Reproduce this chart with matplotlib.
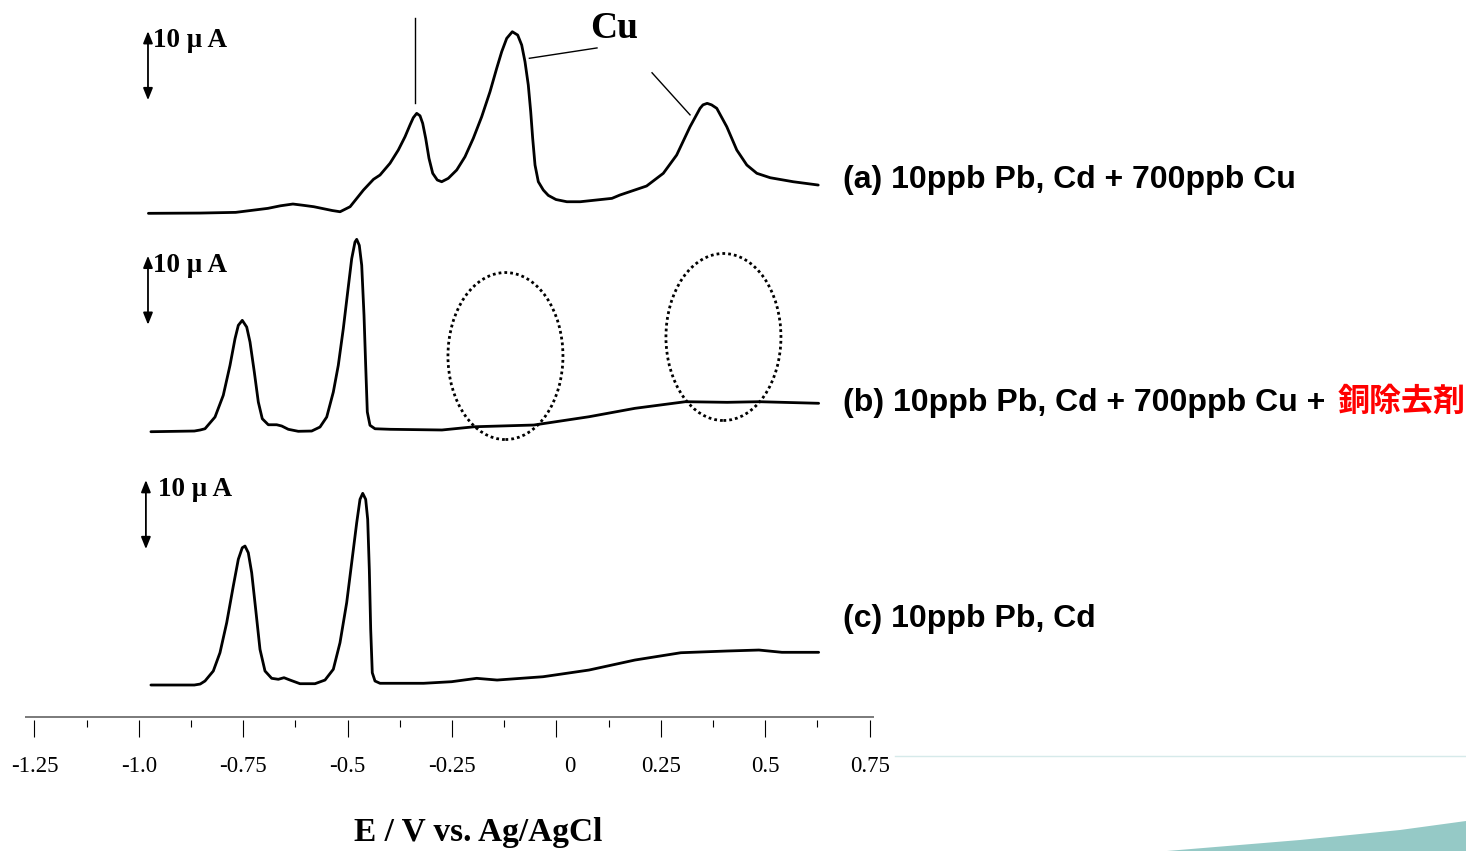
import matplotlib
matplotlib.use("Agg")
import matplotlib.pyplot as plt
from matplotlib.patches import Ellipse, Polygon
from matplotlib.lines import Line2D
from matplotlib.transforms import ScaledTranslation

# ---------------- data: (potential V, current uA above the trace baseline) ----------------
trace_a = [(-0.977, 0), (-0.853, 0.04), (-0.768, 0.14), (-0.691, 0.72), (-0.661, 1.09),
           (-0.631, 1.35), (-0.607, 1.17), (-0.581, 0.96), (-0.537, 0.41), (-0.518, 0.23),
           (-0.494, 0.96), (-0.462, 3.38), (-0.438, 4.93), (-0.4224, 5.55), (-0.3985, 7.25),
           (-0.3786, 9.17), (-0.3625, 11.10), (-0.3506, 12.80), (-0.3427, 13.86),
           (-0.3345, 14.49), (-0.3266, 14.14), (-0.3202, 13.04), (-0.3130, 10.87),
           (-0.3051, 7.97), (-0.2962, 5.80), (-0.2852, 4.83), (-0.2747, 4.58), (-0.2589, 5.07),
           (-0.2387, 6.28), (-0.2189, 8.20), (-0.1990, 10.87), (-0.1789, 14.00),
           (-0.1590, 17.62), (-0.1430, 21.01), (-0.1310, 23.42), (-0.1190, 25.36),
           (-0.1056, 26.32), (-0.0927, 25.84), (-0.0831, 24.39), (-0.0752, 21.97),
           (-0.0673, 18.59), (-0.0615, 14.72), (-0.0568, 10.87), (-0.0512, 7.00),
           (-0.0433, 4.58), (-0.0314, 3.38), (-0.0194, 2.60), (-0.001, 2.00), (0.025, 1.68),
           (0.057, 1.68), (0.133, 2.17), (0.152, 2.65), (0.216, 3.96), (0.256, 5.80),
           (0.288, 8.45), (0.320, 12.55), (0.344, 15.22), (0.351, 15.72), (0.361, 15.94),
           (0.3716, 15.72), (0.384, 15.22), (0.408, 12.55), (0.432, 9.17), (0.456, 7.00),
           (0.480, 5.80), (0.512, 5.16), (0.567, 4.58), (0.627, 4.10)]

trace_b = [(-0.971, 0), (-0.867, 0.10), (-0.853, 0.25), (-0.8415, 0.43), (-0.8175, 2.13),
           (-0.7977, 5.28), (-0.7816, 9.62), (-0.7696, 13.48), (-0.7617, 15.42),
           (-0.7522, 16.14), (-0.7416, 15.17), (-0.7337, 13.00), (-0.7234, 8.65),
           (-0.7138, 4.30), (-0.7043, 1.88), (-0.6899, 1.01), (-0.6698, 1.01), (-0.6578, 0.83),
           (-0.6420, 0.35), (-0.6181, 0.06), (-0.5860, 0.10), (-0.5661, 0.68), (-0.5500, 2.13),
           (-0.5342, 5.75), (-0.5223, 9.62), (-0.5103, 14.93), (-0.4998, 20.25),
           (-0.4902, 25.07), (-0.4823, 27.49), (-0.4782, 27.88), (-0.4720, 27.01),
           (-0.4662, 24.12), (-0.4607, 16.87), (-0.4567, 9.62), (-0.4528, 2.86),
           (-0.4464, 0.93), (-0.4344, 0.43), (-0.398, 0.35), (-0.274, 0.25), (-0.196, 0.72),
           (-0.054, 0.97), (0.078, 2.17), (0.188, 3.39), (0.309, 4.35), (0.409, 4.26),
           (0.485, 4.35), (0.628, 4.12)]

trace_c = [(-0.971, 0), (-0.867, 0), (-0.853, 0.14), (-0.8415, 0.58), (-0.8216, 2.03),
           (-0.8056, 4.68), (-0.7895, 9.03), (-0.7737, 14.35), (-0.7617, 18.22),
           (-0.7522, 19.90), (-0.7457, 20.14), (-0.7378, 19.17), (-0.7297, 16.28),
           (-0.7201, 10.97), (-0.7098, 5.17), (-0.6978, 2.03), (-0.6818, 0.97), (-0.6659, 0.83),
           (-0.6523, 1.06), (-0.6379, 0.72), (-0.6140, 0.19), (-0.5781, 0.19), (-0.5541, 0.72),
           (-0.5342, 2.28), (-0.5182, 6.13), (-0.5022, 11.93), (-0.4902, 17.72),
           (-0.4782, 23.52), (-0.4703, 26.91), (-0.4638, 27.78), (-0.4567, 26.91),
           (-0.4519, 24.01), (-0.4480, 16.77), (-0.4447, 8.07), (-0.4409, 1.78),
           (-0.4344, 0.58), (-0.4224, 0.25), (-0.398, 0.25), (-0.318, 0.25), (-0.251, 0.48),
           (-0.191, 0.97), (-0.142, 0.72), (-0.032, 1.20), (0.078, 2.17), (0.188, 3.62),
           (0.298, 4.68), (0.409, 4.93), (0.485, 5.07), (0.540, 4.74), (0.628, 4.74)]

trace_offsets = [73.43, 41.78, 5.07]          # vertical stacking offsets (uA)
scale_bar_uA = 10
scale_bar_label = "10 μ A"

trace_labels = ["(a) 10ppb Pb, Cd + 700ppb Cu",
                "(b) 10ppb Pb, Cd + 700ppb Cu +",
                "(c) 10ppb Pb, Cd"]
label_b_red = "銅除去剤"
cu_label = "Cu"

tick_values = [-1.25, -1.0, -0.75, -0.5, -0.25, 0, 0.25, 0.5, 0.75]
tick_labels = ["-1.25", "-1.0", "-0.75", "-0.5", "-0.25", "0", "0.25", "0.5", "0.75"]
minor_tick_values = [-1.125, -0.875, -0.625, -0.375, -0.125, 0.125, 0.375, 0.625]
x_label = "E / V vs. Ag/AgCl"

# ---------------- layout ----------------
W, H, DPI = 1466, 851, 100
PX_PER_V = 417.6
PX_PER_UA = 6.9
X0_PX = 556.4            # pixel of 0 V
AX_LEFT, AX_RIGHT, AX_BOTTOM = 25, 874, 720

SERIF = ["Liberation Serif", "DejaVu Serif"]
SANS = ["Liberation Sans", "DejaVu Sans"]
CJK = ["Noto Sans CJK JP", "DejaVu Sans"]

fig = plt.figure(figsize=(W / DPI, H / DPI), dpi=DPI)
ax = fig.add_axes([AX_LEFT / W, (H - AX_BOTTOM) / H, (AX_RIGHT - AX_LEFT) / W, AX_BOTTOM / H])
ax.set_xlim((AX_LEFT - X0_PX) / PX_PER_V, (AX_RIGHT - X0_PX) / PX_PER_V)
ax.set_ylim(0, AX_BOTTOM / PX_PER_UA)
for s in ax.spines.values():
    s.set_visible(False)
ax.set_yticks([])

# axis line (slightly above the tick origins)
ax.axhline(3 / PX_PER_UA, color="#7a7a7a", lw=1.4, zorder=1)

ax.set_xticks(tick_values)
ax.set_xticklabels(tick_labels, fontfamily=SERIF)
ax.set_xticks(minor_tick_values, minor=True)
ax.tick_params(axis="x", which="major", direction="out", length=12.2, width=0.8,
               pad=14.0, labelsize=16.5, color="black")
ax.tick_params(axis="x", which="minor", direction="out", length=5.0, width=0.8, color="black")
for lab in ax.get_xticklabels():
    if lab.get_text() == "0":
        lab.set_transform(lab.get_transform() + ScaledTranslation(13 / DPI, 0, fig.dpi_scale_trans))

# ---------------- traces ----------------
for trace, off in zip([trace_a, trace_b, trace_c], trace_offsets):
    E = [p[0] for p in trace]
    I = [p[1] + off for p in trace]
    ax.plot(E, I, color="black", lw=2.0, solid_joinstyle="round",
            solid_capstyle="round", zorder=3)

# scale bars (10 uA double arrows) and labels
bar_x = [-0.978, -0.978, -0.983]
bar_top = [26.4, 25.5, 29.7]        # relative to trace offset
lab_x = [-0.966, -0.966, -0.954]
for bx, bt, lx, off in zip(bar_x, bar_top, lab_x, trace_offsets):
    ax.annotate("", xy=(bx, off + bt), xytext=(bx, off + bt - scale_bar_uA),
                arrowprops=dict(arrowstyle="<|-|>,head_length=0.55,head_width=0.22",
                                lw=1.3, color="black", shrinkA=0, shrinkB=0,
                                mutation_scale=13))
    ax.text(lx, off + bt - 1.4, scale_bar_label, fontfamily=SERIF, fontweight="bold",
            fontsize=19.5, va="center", ha="left")

# Cu annotations on trace (a)
ax.plot([-0.3386, -0.3386], [101.7, 89.4], color="black", lw=1.0)
ax.plot([-0.0647, 0.0972], [95.9, 97.4], color="black", lw=1.0)
ax.plot([0.229, 0.320], [93.8, 87.7], color="black", lw=1.0)
ax.text(0.139, 100.2, cu_label, fontfamily=SERIF, fontweight="bold", fontsize=27,
        ha="center", va="center")

# dotted ellipses on trace (b)
for cx, cy in [(-0.122, 10.97), (0.400, 13.73)]:
    ax.add_patch(Ellipse((cx, trace_offsets[1] + cy), width=115 / PX_PER_V,
                         height=167 / PX_PER_UA, fill=False, color="black", lw=2.0,
                         linestyle=(0, (1, 1.1)), zorder=4))

# right-hand labels
label_x = 0.686
label_y = [77.1, 44.78, 13.48]
texts = []
for txt, ly in zip(trace_labels, label_y):
    t = ax.text(label_x, ly, txt, fontfamily=SANS, fontweight="bold", fontsize=23,
                ha="left", va="baseline", color="black")
    texts.append(t)

fig.canvas.draw()
bb = texts[1].get_window_extent()
fig.text((bb.x1 + 13) / W, texts[1].get_transform().transform((label_x, label_y[1]))[1] / H,
         label_b_red, fontfamily=CJK, fontweight="bold", fontsize=23, color="#ff0000",
         ha="left", va="baseline")

# x-axis title
fig.text(478 / W, 1 - 832 / H, x_label, fontfamily=SERIF, fontweight="bold", fontsize=24,
         ha="center", va="center")

# slide decoration (bottom right)
fig.add_artist(Line2D([895 / W, 1.0], [1 - 756 / H, 1 - 756 / H], color="#d6eaea", lw=1.0,
                      transform=fig.transFigure))
fig.add_artist(Polygon([(1167 / W, 0), (1300 / W, 11 / H), (1400 / W, 21 / H), (1.0, 30 / H),
                        (1.0, 0)], closed=True, facecolor="#95c9c6", edgecolor="none",
                       transform=fig.transFigure))

fig.savefig("out.png", dpi=DPI)
